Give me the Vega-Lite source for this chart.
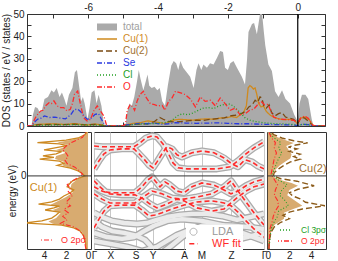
{
"$schema": "https://vega.github.io/schema/vega-lite/v6.json",
"padding": {"left": 1, "top": 1, "right": 0, "bottom": 0},
"config": {"font": "Liberation Sans", "view": {"stroke": "#333", "strokeWidth": 1},
 "axis": {"domain": false, "grid": false, "ticks": false, "tickCount": 30, "labelFontSize": 10, "titleFontSize": 10, "titleFontWeight": "normal", "labelColor": "#222", "titleColor": "#222", "tickColor": "#333", "labelFlush": false, "labelBound": false, "labelOverlap": false}},
"datasets": {
"tot": [{"E":-7.75,"v":0},{"E":-7.62,"v":0},{"E":-7.58,"v":5},{"E":-7.52,"v":8.5},{"E":-7.45,"v":8},{"E":-7.38,"v":6},{"E":-7.32,"v":7},{"E":-7.25,"v":12},{"E":-7.15,"v":13},{"E":-7.05,"v":16},{"E":-6.98,"v":15},{"E":-6.9,"v":17},{"E":-6.82,"v":13},{"E":-6.75,"v":15},{"E":-6.68,"v":12},{"E":-6.62,"v":9},{"E":-6.55,"v":14},{"E":-6.45,"v":17},{"E":-6.38,"v":24},{"E":-6.32,"v":25},{"E":-6.26,"v":18},{"E":-6.2,"v":11},{"E":-6.15,"v":13},{"E":-6.1,"v":10},{"E":-6.02,"v":3},{"E":-5.96,"v":8},{"E":-5.9,"v":15},{"E":-5.82,"v":16},{"E":-5.76,"v":10},{"E":-5.7,"v":14},{"E":-5.62,"v":9},{"E":-5.55,"v":1},{"E":-5.5,"v":0},{"E":-5.0,"v":0},{"E":-4.93,"v":0.5},{"E":-4.88,"v":6},{"E":-4.82,"v":10},{"E":-4.75,"v":9},{"E":-4.68,"v":13},{"E":-4.6,"v":20},{"E":-4.55,"v":25},{"E":-4.5,"v":21},{"E":-4.42,"v":16},{"E":-4.35,"v":20},{"E":-4.3,"v":23},{"E":-4.25,"v":18},{"E":-4.18,"v":17},{"E":-4.1,"v":17.5},{"E":-4.02,"v":16},{"E":-3.95,"v":17},{"E":-3.88,"v":11},{"E":-3.8,"v":9},{"E":-3.72,"v":18},{"E":-3.62,"v":27},{"E":-3.55,"v":29},{"E":-3.48,"v":28},{"E":-3.42,"v":25},{"E":-3.36,"v":29},{"E":-3.28,"v":26},{"E":-3.18,"v":24},{"E":-3.08,"v":22},{"E":-2.98,"v":17},{"E":-2.9,"v":25},{"E":-2.84,"v":28},{"E":-2.76,"v":25},{"E":-2.7,"v":27.5},{"E":-2.6,"v":26},{"E":-2.51,"v":28},{"E":-2.41,"v":27.5},{"E":-2.31,"v":30.5},{"E":-2.22,"v":33.5},{"E":-2.14,"v":33},{"E":-2.08,"v":26},{"E":-2.0,"v":25},{"E":-1.93,"v":28},{"E":-1.84,"v":29},{"E":-1.74,"v":26},{"E":-1.6,"v":22},{"E":-1.51,"v":18.5},{"E":-1.45,"v":30},{"E":-1.41,"v":42},{"E":-1.31,"v":45.5},{"E":-1.25,"v":46},{"E":-1.17,"v":41},{"E":-1.12,"v":46},{"E":-1.08,"v":50},{"E":-1.02,"v":50},{"E":-0.97,"v":42},{"E":-0.93,"v":36},{"E":-0.84,"v":27.5},{"E":-0.74,"v":24.5},{"E":-0.65,"v":15.5},{"E":-0.55,"v":13},{"E":-0.45,"v":16},{"E":-0.35,"v":12},{"E":-0.22,"v":10},{"E":-0.1,"v":5},{"E":0.0,"v":2},{"E":0.05,"v":10},{"E":0.12,"v":14},{"E":0.22,"v":14},{"E":0.3,"v":12},{"E":0.4,"v":3},{"E":0.45,"v":0},{"E":0.78,"v":0}],
"comp": [
{"s":"Cu(1)","E":-7.75,"v":0},{"s":"Cu(1)","E":-7.6,"v":0},{"s":"Cu(1)","E":-7.55,"v":0.5},{"s":"Cu(1)","E":-7.4,"v":0.8},{"s":"Cu(1)","E":-7.2,"v":0.9},{"s":"Cu(1)","E":-7.0,"v":1.0},{"s":"Cu(1)","E":-6.8,"v":0.8},{"s":"Cu(1)","E":-6.6,"v":0.7},{"s":"Cu(1)","E":-6.4,"v":1.1},{"s":"Cu(1)","E":-6.2,"v":0.7},{"s":"Cu(1)","E":-6.0,"v":0.5},{"s":"Cu(1)","E":-5.8,"v":0.9},{"s":"Cu(1)","E":-5.6,"v":0.5},{"s":"Cu(1)","E":-5.5,"v":0},{"s":"Cu(1)","E":-5.0,"v":0},{"s":"Cu(1)","E":-4.9,"v":0.6},{"s":"Cu(1)","E":-4.7,"v":1.2},{"s":"Cu(1)","E":-4.5,"v":1.5},{"s":"Cu(1)","E":-4.3,"v":2.3},{"s":"Cu(1)","E":-4.1,"v":1.8},{"s":"Cu(1)","E":-3.95,"v":1.5},{"s":"Cu(1)","E":-3.8,"v":1.0},{"s":"Cu(1)","E":-3.6,"v":2.5},{"s":"Cu(1)","E":-3.4,"v":3.0},{"s":"Cu(1)","E":-3.2,"v":2.8},{"s":"Cu(1)","E":-3.0,"v":2.6},{"s":"Cu(1)","E":-2.8,"v":3.0},{"s":"Cu(1)","E":-2.6,"v":3.2},{"s":"Cu(1)","E":-2.4,"v":3.0},{"s":"Cu(1)","E":-2.2,"v":3.6},{"s":"Cu(1)","E":-2.0,"v":3.8},{"s":"Cu(1)","E":-1.9,"v":4.2},{"s":"Cu(1)","E":-1.75,"v":3.8},{"s":"Cu(1)","E":-1.65,"v":5.0},{"s":"Cu(1)","E":-1.55,"v":6.0},{"s":"Cu(1)","E":-1.47,"v":9},{"s":"Cu(1)","E":-1.42,"v":17},{"s":"Cu(1)","E":-1.37,"v":18},{"s":"Cu(1)","E":-1.32,"v":17.5},{"s":"Cu(1)","E":-1.27,"v":16.5},{"s":"Cu(1)","E":-1.22,"v":17},{"s":"Cu(1)","E":-1.17,"v":14},{"s":"Cu(1)","E":-1.12,"v":10},{"s":"Cu(1)","E":-1.05,"v":8.5},{"s":"Cu(1)","E":-0.98,"v":9},{"s":"Cu(1)","E":-0.9,"v":6.5},{"s":"Cu(1)","E":-0.8,"v":5},{"s":"Cu(1)","E":-0.7,"v":4},{"s":"Cu(1)","E":-0.55,"v":3.2},{"s":"Cu(1)","E":-0.4,"v":2.8},{"s":"Cu(1)","E":-0.25,"v":3.0},{"s":"Cu(1)","E":-0.1,"v":2.5},{"s":"Cu(1)","E":0.0,"v":1.0},{"s":"Cu(1)","E":0.08,"v":3.5},{"s":"Cu(1)","E":0.2,"v":4.0},{"s":"Cu(1)","E":0.32,"v":3.0},{"s":"Cu(1)","E":0.42,"v":0.5},{"s":"Cu(1)","E":0.5,"v":0},{"s":"Cu(1)","E":0.78,"v":0},
{"s":"Cu(2)","E":-7.75,"v":0},{"s":"Cu(2)","E":-7.6,"v":0},{"s":"Cu(2)","E":-7.55,"v":0.4},{"s":"Cu(2)","E":-7.3,"v":0.6},{"s":"Cu(2)","E":-7.0,"v":0.7},{"s":"Cu(2)","E":-6.7,"v":0.6},{"s":"Cu(2)","E":-6.4,"v":0.8},{"s":"Cu(2)","E":-6.1,"v":0.5},{"s":"Cu(2)","E":-5.8,"v":0.7},{"s":"Cu(2)","E":-5.55,"v":0.2},{"s":"Cu(2)","E":-5.5,"v":0},{"s":"Cu(2)","E":-5.0,"v":0},{"s":"Cu(2)","E":-4.9,"v":0.4},{"s":"Cu(2)","E":-4.6,"v":0.8},{"s":"Cu(2)","E":-4.3,"v":1.0},{"s":"Cu(2)","E":-4.1,"v":2.0},{"s":"Cu(2)","E":-3.95,"v":3.8},{"s":"Cu(2)","E":-3.85,"v":3.0},{"s":"Cu(2)","E":-3.7,"v":2.0},{"s":"Cu(2)","E":-3.5,"v":1.8},{"s":"Cu(2)","E":-3.3,"v":2.0},{"s":"Cu(2)","E":-3.1,"v":2.4},{"s":"Cu(2)","E":-2.9,"v":2.6},{"s":"Cu(2)","E":-2.7,"v":2.5},{"s":"Cu(2)","E":-2.5,"v":3.0},{"s":"Cu(2)","E":-2.3,"v":3.3},{"s":"Cu(2)","E":-2.1,"v":3.6},{"s":"Cu(2)","E":-1.95,"v":4.5},{"s":"Cu(2)","E":-1.8,"v":4.8},{"s":"Cu(2)","E":-1.65,"v":5.2},{"s":"Cu(2)","E":-1.5,"v":6.5},{"s":"Cu(2)","E":-1.4,"v":8.5},{"s":"Cu(2)","E":-1.3,"v":9.5},{"s":"Cu(2)","E":-1.22,"v":11.5},{"s":"Cu(2)","E":-1.15,"v":10.5},{"s":"Cu(2)","E":-1.08,"v":13},{"s":"Cu(2)","E":-1.03,"v":12.5},{"s":"Cu(2)","E":-0.97,"v":9},{"s":"Cu(2)","E":-0.9,"v":8},{"s":"Cu(2)","E":-0.82,"v":9.5},{"s":"Cu(2)","E":-0.75,"v":6},{"s":"Cu(2)","E":-0.65,"v":4.5},{"s":"Cu(2)","E":-0.55,"v":5.5},{"s":"Cu(2)","E":-0.45,"v":6.0},{"s":"Cu(2)","E":-0.35,"v":4.0},{"s":"Cu(2)","E":-0.25,"v":3.5},{"s":"Cu(2)","E":-0.12,"v":3.0},{"s":"Cu(2)","E":0.0,"v":1.2},{"s":"Cu(2)","E":0.1,"v":4.0},{"s":"Cu(2)","E":0.2,"v":3.5},{"s":"Cu(2)","E":0.32,"v":2.0},{"s":"Cu(2)","E":0.42,"v":0.3},{"s":"Cu(2)","E":0.5,"v":0},{"s":"Cu(2)","E":0.78,"v":0},
{"s":"Se","E":-7.75,"v":0},{"s":"Se","E":-7.6,"v":0},{"s":"Se","E":-7.55,"v":1.5},{"s":"Se","E":-7.45,"v":3.0},{"s":"Se","E":-7.35,"v":3.5},{"s":"Se","E":-7.25,"v":4.5},{"s":"Se","E":-7.1,"v":3.8},{"s":"Se","E":-6.95,"v":4.0},{"s":"Se","E":-6.8,"v":3.5},{"s":"Se","E":-6.65,"v":3.2},{"s":"Se","E":-6.5,"v":5.0},{"s":"Se","E":-6.4,"v":7.3},{"s":"Se","E":-6.3,"v":7.5},{"s":"Se","E":-6.22,"v":6.5},{"s":"Se","E":-6.12,"v":4.5},{"s":"Se","E":-6.03,"v":3.0},{"s":"Se","E":-5.93,"v":3.3},{"s":"Se","E":-5.8,"v":5.2},{"s":"Se","E":-5.7,"v":5.5},{"s":"Se","E":-5.62,"v":3.0},{"s":"Se","E":-5.52,"v":0.5},{"s":"Se","E":-5.5,"v":0},{"s":"Se","E":-5.0,"v":0},{"s":"Se","E":-4.9,"v":0.5},{"s":"Se","E":-4.7,"v":0.8},{"s":"Se","E":-4.5,"v":1.2},{"s":"Se","E":-4.3,"v":1.0},{"s":"Se","E":-4.1,"v":1.3},{"s":"Se","E":-3.9,"v":0.8},{"s":"Se","E":-3.7,"v":1.0},{"s":"Se","E":-3.5,"v":1.5},{"s":"Se","E":-3.2,"v":1.3},{"s":"Se","E":-2.9,"v":1.2},{"s":"Se","E":-2.6,"v":1.3},{"s":"Se","E":-2.3,"v":1.4},{"s":"Se","E":-2.0,"v":1.2},{"s":"Se","E":-1.7,"v":1.0},{"s":"Se","E":-1.4,"v":1.0},{"s":"Se","E":-1.1,"v":0.8},{"s":"Se","E":-0.8,"v":0.7},{"s":"Se","E":-0.5,"v":0.6},{"s":"Se","E":-0.2,"v":0.5},{"s":"Se","E":0.0,"v":0.2},{"s":"Se","E":0.15,"v":0.8},{"s":"Se","E":0.3,"v":0.6},{"s":"Se","E":0.45,"v":0.1},{"s":"Se","E":0.5,"v":0},{"s":"Se","E":0.78,"v":0},
{"s":"Cl","E":-7.75,"v":0},{"s":"Cl","E":-7.6,"v":0},{"s":"Cl","E":-7.55,"v":0.2},{"s":"Cl","E":-7.2,"v":0.4},{"s":"Cl","E":-6.8,"v":0.5},{"s":"Cl","E":-6.4,"v":0.6},{"s":"Cl","E":-6.0,"v":0.4},{"s":"Cl","E":-5.6,"v":0.4},{"s":"Cl","E":-5.5,"v":0},{"s":"Cl","E":-5.0,"v":0},{"s":"Cl","E":-4.9,"v":0.3},{"s":"Cl","E":-4.6,"v":0.8},{"s":"Cl","E":-4.3,"v":1.0},{"s":"Cl","E":-4.0,"v":1.2},{"s":"Cl","E":-3.8,"v":1.5},{"s":"Cl","E":-3.6,"v":2.5},{"s":"Cl","E":-3.45,"v":4.5},{"s":"Cl","E":-3.3,"v":5.5},{"s":"Cl","E":-3.15,"v":5.0},{"s":"Cl","E":-3.0,"v":5.8},{"s":"Cl","E":-2.85,"v":7.0},{"s":"Cl","E":-2.7,"v":8.0},{"s":"Cl","E":-2.55,"v":8.2},{"s":"Cl","E":-2.4,"v":7.8},{"s":"Cl","E":-2.25,"v":9.0},{"s":"Cl","E":-2.1,"v":9.6},{"s":"Cl","E":-1.95,"v":9.8},{"s":"Cl","E":-1.85,"v":9.0},{"s":"Cl","E":-1.75,"v":7.5},{"s":"Cl","E":-1.62,"v":5.5},{"s":"Cl","E":-1.5,"v":3.5},{"s":"Cl","E":-1.35,"v":2.5},{"s":"Cl","E":-1.2,"v":2.0},{"s":"Cl","E":-1.0,"v":1.5},{"s":"Cl","E":-0.8,"v":1.2},{"s":"Cl","E":-0.6,"v":1.0},{"s":"Cl","E":-0.4,"v":0.9},{"s":"Cl","E":-0.2,"v":0.8},{"s":"Cl","E":0.0,"v":0.3},{"s":"Cl","E":0.15,"v":0.8},{"s":"Cl","E":0.3,"v":0.6},{"s":"Cl","E":0.45,"v":0.1},{"s":"Cl","E":0.5,"v":0},{"s":"Cl","E":0.78,"v":0},
{"s":"O","E":-7.75,"v":0},{"s":"O","E":-7.62,"v":0},{"s":"O","E":-7.51,"v":3.7},{"s":"O","E":-7.43,"v":5.5},{"s":"O","E":-7.36,"v":6.7},{"s":"O","E":-7.29,"v":7.0},{"s":"O","E":-7.22,"v":9.0},{"s":"O","E":-7.12,"v":10.4},{"s":"O","E":-7.05,"v":10.0},{"s":"O","E":-6.98,"v":11.2},{"s":"O","E":-6.89,"v":9.0},{"s":"O","E":-6.79,"v":8.2},{"s":"O","E":-6.7,"v":8.2},{"s":"O","E":-6.6,"v":6.7},{"s":"O","E":-6.51,"v":7.5},{"s":"O","E":-6.45,"v":10},{"s":"O","E":-6.39,"v":14.2},{"s":"O","E":-6.3,"v":15.6},{"s":"O","E":-6.22,"v":9.7},{"s":"O","E":-6.13,"v":3.7},{"s":"O","E":-6.03,"v":2.2},{"s":"O","E":-5.93,"v":3.0},{"s":"O","E":-5.84,"v":6.7},{"s":"O","E":-5.74,"v":9.0},{"s":"O","E":-5.65,"v":6.7},{"s":"O","E":-5.55,"v":4.5},{"s":"O","E":-5.48,"v":0.7},{"s":"O","E":-5.45,"v":0},{"s":"O","E":-5.0,"v":0},{"s":"O","E":-4.93,"v":1.0},{"s":"O","E":-4.88,"v":7},{"s":"O","E":-4.8,"v":9.5},{"s":"O","E":-4.72,"v":8.5},{"s":"O","E":-4.67,"v":7.0},{"s":"O","E":-4.6,"v":11},{"s":"O","E":-4.52,"v":14},{"s":"O","E":-4.42,"v":15.5},{"s":"O","E":-4.35,"v":13},{"s":"O","E":-4.22,"v":10},{"s":"O","E":-4.1,"v":9.5},{"s":"O","E":-4.0,"v":9.0},{"s":"O","E":-3.88,"v":9.2},{"s":"O","E":-3.8,"v":7.0},{"s":"O","E":-3.7,"v":11},{"s":"O","E":-3.6,"v":12.5},{"s":"O","E":-3.5,"v":15.5},{"s":"O","E":-3.4,"v":15.0},{"s":"O","E":-3.3,"v":14.5},{"s":"O","E":-3.22,"v":14},{"s":"O","E":-3.07,"v":12},{"s":"O","E":-2.93,"v":8.5},{"s":"O","E":-2.85,"v":11},{"s":"O","E":-2.79,"v":13},{"s":"O","E":-2.65,"v":11},{"s":"O","E":-2.5,"v":11.5},{"s":"O","E":-2.36,"v":9},{"s":"O","E":-2.22,"v":12.5},{"s":"O","E":-2.08,"v":10},{"s":"O","E":-1.93,"v":7},{"s":"O","E":-1.79,"v":8},{"s":"O","E":-1.65,"v":5},{"s":"O","E":-1.5,"v":5.5},{"s":"O","E":-1.38,"v":7.0},{"s":"O","E":-1.26,"v":7.5},{"s":"O","E":-1.15,"v":9.5},{"s":"O","E":-1.05,"v":11},{"s":"O","E":-0.95,"v":9.5},{"s":"O","E":-0.85,"v":9.7},{"s":"O","E":-0.78,"v":7.0},{"s":"O","E":-0.69,"v":4.0},{"s":"O","E":-0.55,"v":3.2},{"s":"O","E":-0.4,"v":3.0},{"s":"O","E":-0.25,"v":2.8},{"s":"O","E":-0.1,"v":2.5},{"s":"O","E":0.0,"v":1.0},{"s":"O","E":0.08,"v":3.5},{"s":"O","E":0.2,"v":4.5},{"s":"O","E":0.3,"v":3.5},{"s":"O","E":0.42,"v":0.5},{"s":"O","E":0.5,"v":0},{"s":"O","E":0.78,"v":0}
],
"cu1": [{"E":-2.08,"v":0.15},{"E":-1.85,"v":0.25},{"E":-1.71,"v":0.4},{"E":-1.57,"v":0.7},{"E":-1.48,"v":1.3},{"E":-1.4,"v":2.4},{"E":-1.34,"v":5.8},{"E":-1.28,"v":4.2},{"E":-1.2,"v":3.3},{"E":-1.11,"v":2.9},{"E":-1.03,"v":2.6},{"E":-0.97,"v":3.9},{"E":-0.91,"v":3.1},{"E":-0.86,"v":2.6},{"E":-0.8,"v":4.5},{"E":-0.74,"v":3.3},{"E":-0.66,"v":2.6},{"E":-0.57,"v":2.2},{"E":-0.48,"v":1.6},{"E":-0.4,"v":1.3},{"E":-0.31,"v":1.9},{"E":-0.23,"v":1.7},{"E":-0.14,"v":1.4},{"E":-0.06,"v":0.8},{"E":0.0,"v":0.3},{"E":0.06,"v":0.5},{"E":0.14,"v":0.9},{"E":0.22,"v":1.6},{"E":0.3,"v":2.8},{"E":0.36,"v":2.2},{"E":0.42,"v":2.6},{"E":0.48,"v":4.4},{"E":0.53,"v":3.1},{"E":0.57,"v":4.1},{"E":0.63,"v":2.9},{"E":0.69,"v":2.4},{"E":0.74,"v":4.0},{"E":0.8,"v":3.0},{"E":0.86,"v":1.9},{"E":0.91,"v":2.6},{"E":0.95,"v":4.6},{"E":1.02,"v":2.0},{"E":1.08,"v":0.9},{"E":1.17,"v":0.3},{"E":1.25,"v":0.1}],
"cu1f": [{"E":-2.08,"v":0.1},{"E":-1.75,"v":0.3},{"E":-1.57,"v":0.6},{"E":-1.45,"v":1.4},{"E":-1.36,"v":3.2},{"E":-1.3,"v":3.6},{"E":-1.2,"v":2.9},{"E":-1.06,"v":2.5},{"E":-0.97,"v":3.2},{"E":-0.9,"v":2.6},{"E":-0.82,"v":3.4},{"E":-0.74,"v":2.9},{"E":-0.6,"v":2.0},{"E":-0.48,"v":1.4},{"E":-0.35,"v":1.6},{"E":-0.23,"v":1.5},{"E":-0.1,"v":1.0},{"E":0.0,"v":0.3},{"E":0.1,"v":0.7},{"E":0.2,"v":1.3},{"E":0.3,"v":2.3},{"E":0.4,"v":2.2},{"E":0.48,"v":3.0},{"E":0.57,"v":2.9},{"E":0.66,"v":2.0},{"E":0.74,"v":2.9},{"E":0.8,"v":2.3},{"E":0.88,"v":1.8},{"E":0.95,"v":2.8},{"E":1.02,"v":1.6},{"E":1.1,"v":0.6},{"E":1.25,"v":0.1}],
"o1": [{"E":-2.08,"v":0.2},{"E":-1.7,"v":0.4},{"E":-1.55,"v":0.8},{"E":-1.45,"v":1.3},{"E":-1.35,"v":2.5},{"E":-1.25,"v":1.9},{"E":-1.15,"v":2.3},{"E":-1.05,"v":1.8},{"E":-0.95,"v":2.2},{"E":-0.85,"v":1.6},{"E":-0.75,"v":2.0},{"E":-0.65,"v":1.7},{"E":-0.55,"v":1.4},{"E":-0.45,"v":1.8},{"E":-0.35,"v":1.6},{"E":-0.25,"v":1.9},{"E":-0.15,"v":1.5},{"E":-0.05,"v":0.9},{"E":0.05,"v":0.5},{"E":0.15,"v":0.8},{"E":0.25,"v":1.2},{"E":0.35,"v":1.9},{"E":0.45,"v":2.1},{"E":0.55,"v":1.8},{"E":0.65,"v":2.0},{"E":0.75,"v":2.3},{"E":0.85,"v":2.0},{"E":0.95,"v":1.5},{"E":1.1,"v":0.5},{"E":1.25,"v":0.2}],
"cu2": [{"E":-2.08,"v":0.1},{"E":-1.8,"v":0.15},{"E":-1.6,"v":0.3},{"E":-1.45,"v":0.6},{"E":-1.32,"v":1.2},{"E":-1.22,"v":2.0},{"E":-1.12,"v":1.4},{"E":-1.03,"v":2.0},{"E":-0.94,"v":3.2},{"E":-0.85,"v":5.3},{"E":-0.75,"v":3.5},{"E":-0.65,"v":3.0},{"E":-0.57,"v":2.3},{"E":-0.48,"v":2.0},{"E":-0.38,"v":2.8},{"E":-0.28,"v":4.3},{"E":-0.15,"v":2.7},{"E":-0.08,"v":1.2},{"E":0.0,"v":0.5},{"E":0.1,"v":0.6},{"E":0.2,"v":1.0},{"E":0.3,"v":1.5},{"E":0.4,"v":2.1},{"E":0.48,"v":3.0},{"E":0.55,"v":2.4},{"E":0.62,"v":3.0},{"E":0.7,"v":2.0},{"E":0.77,"v":2.7},{"E":0.82,"v":1.9},{"E":0.88,"v":2.6},{"E":0.94,"v":3.7},{"E":1.0,"v":2.4},{"E":1.08,"v":1.3},{"E":1.17,"v":0.6},{"E":1.25,"v":0.2}],
"cu2f": [{"E":-2.08,"v":0.1},{"E":-1.6,"v":0.3},{"E":-1.4,"v":0.6},{"E":-1.22,"v":1.5},{"E":-1.05,"v":1.5},{"E":-0.95,"v":2.3},{"E":-0.85,"v":3.2},{"E":-0.7,"v":2.5},{"E":-0.55,"v":1.8},{"E":-0.4,"v":2.0},{"E":-0.28,"v":2.8},{"E":-0.2,"v":2.2},{"E":-0.1,"v":1.0},{"E":0.0,"v":0.4},{"E":0.15,"v":0.6},{"E":0.3,"v":1.1},{"E":0.4,"v":1.6},{"E":0.5,"v":2.1},{"E":0.62,"v":2.2},{"E":0.75,"v":1.9},{"E":0.85,"v":1.7},{"E":0.94,"v":2.4},{"E":1.0,"v":1.8},{"E":1.1,"v":0.9},{"E":1.25,"v":0.1}],
"side2": [
{"s":"Cl 3pσ","E":-2.08,"v":0.1},{"s":"Cl 3pσ","E":-1.5,"v":0.3},{"s":"Cl 3pσ","E":-1.3,"v":0.6},{"s":"Cl 3pσ","E":-1.15,"v":0.9},{"s":"Cl 3pσ","E":-1.0,"v":1.0},{"s":"Cl 3pσ","E":-0.85,"v":1.9},{"s":"Cl 3pσ","E":-0.7,"v":1.6},{"s":"Cl 3pσ","E":-0.55,"v":1.1},{"s":"Cl 3pσ","E":-0.4,"v":1.3},{"s":"Cl 3pσ","E":-0.25,"v":1.8},{"s":"Cl 3pσ","E":-0.1,"v":0.9},{"s":"Cl 3pσ","E":0.05,"v":0.4},{"s":"Cl 3pσ","E":0.2,"v":0.6},{"s":"Cl 3pσ","E":0.35,"v":0.8},{"s":"Cl 3pσ","E":0.5,"v":1.0},{"s":"Cl 3pσ","E":0.65,"v":1.3},{"s":"Cl 3pσ","E":0.8,"v":1.0},{"s":"Cl 3pσ","E":0.95,"v":1.2},{"s":"Cl 3pσ","E":1.1,"v":0.5},{"s":"Cl 3pσ","E":1.25,"v":0.1},
{"s":"O 2pσ","E":-2.08,"v":0.1},{"s":"O 2pσ","E":-1.5,"v":0.2},{"s":"O 2pσ","E":-1.3,"v":0.4},{"s":"O 2pσ","E":-1.15,"v":0.5},{"s":"O 2pσ","E":-1.0,"v":0.7},{"s":"O 2pσ","E":-0.85,"v":1.0},{"s":"O 2pσ","E":-0.7,"v":0.9},{"s":"O 2pσ","E":-0.55,"v":0.6},{"s":"O 2pσ","E":-0.4,"v":0.7},{"s":"O 2pσ","E":-0.25,"v":0.9},{"s":"O 2pσ","E":-0.1,"v":0.6},{"s":"O 2pσ","E":0.05,"v":0.3},{"s":"O 2pσ","E":0.2,"v":0.4},{"s":"O 2pσ","E":0.35,"v":0.5},{"s":"O 2pσ","E":0.5,"v":0.6},{"s":"O 2pσ","E":0.65,"v":0.8},{"s":"O 2pσ","E":0.8,"v":0.6},{"s":"O 2pσ","E":0.95,"v":0.7},{"s":"O 2pσ","E":1.1,"v":0.3},{"s":"O 2pσ","E":1.25,"v":0.1}
],
"bands": [
{"b":"U1","w":1,"k":0,"E":0.85},{"b":"U1","w":1,"k":8,"E":0.83},{"b":"U1","w":1,"k":16,"E":0.83},{"b":"U1","w":1,"k":28,"E":0.83},{"b":"U1","w":1,"k":40,"E":0.83},{"b":"U1","w":1,"k":46,"E":0.94},{"b":"U1","w":1,"k":52,"E":1.08},{"b":"U1","w":1,"k":58,"E":1.14},{"b":"U1","w":1,"k":63,"E":1.11},{"b":"U1","w":1,"k":69,"E":0.91},{"b":"U1","w":1,"k":74,"E":0.66},{"b":"U1","w":1,"k":79,"E":0.37},{"b":"U1","w":1,"k":84,"E":0.23},{"b":"U1","w":1,"k":93,"E":0.2},{"b":"U1","w":1,"k":108,"E":0.2},{"b":"U1","w":1,"k":123,"E":0.2},{"b":"U1","w":1,"k":136,"E":0.26},{"b":"U1","w":1,"k":144,"E":0.43},{"b":"U1","w":1,"k":152,"E":0.63},{"b":"U1","w":1,"k":160,"E":0.8},{"b":"U1","w":1,"k":170,"E":0.97},
{"b":"U2","w":1,"k":0,"E":0.2},{"b":"U2","w":1,"k":5,"E":0.43},{"b":"U2","w":1,"k":10,"E":0.63},{"b":"U2","w":1,"k":16,"E":0.74},{"b":"U2","w":1,"k":28,"E":0.77},{"b":"U2","w":1,"k":40,"E":0.77},{"b":"U2","w":1,"k":45,"E":0.63},{"b":"U2","w":1,"k":50,"E":0.48},{"b":"U2","w":1,"k":55,"E":0.31},{"b":"U2","w":1,"k":59,"E":0.23},{"b":"U2","w":1,"k":63,"E":0.4},{"b":"U2","w":1,"k":68,"E":0.63},{"b":"U2","w":1,"k":73,"E":0.83},{"b":"U2","w":1,"k":78,"E":0.77},{"b":"U2","w":1,"k":83,"E":0.6},{"b":"U2","w":1,"k":88,"E":0.54},{"b":"U2","w":1,"k":98,"E":0.66},{"b":"U2","w":1,"k":108,"E":0.71},{"b":"U2","w":1,"k":120,"E":0.66},{"b":"U2","w":1,"k":130,"E":0.51},{"b":"U2","w":1,"k":138,"E":0.34},{"b":"U2","w":1,"k":144,"E":0.26},{"b":"U2","w":1,"k":151,"E":0.46},{"b":"U2","w":1,"k":158,"E":0.4},{"b":"U2","w":1,"k":164,"E":0.28},{"b":"U2","w":1,"k":170,"E":0.2},
{"b":"M1","w":1,"k":0,"E":-0.14},{"b":"M1","w":1,"k":6,"E":-0.31},{"b":"M1","w":1,"k":12,"E":-0.46},{"b":"M1","w":1,"k":18,"E":-0.48},{"b":"M1","w":1,"k":30,"E":-0.48},{"b":"M1","w":1,"k":41,"E":-0.48},{"b":"M1","w":1,"k":48,"E":-0.31},{"b":"M1","w":1,"k":54,"E":-0.11},{"b":"M1","w":1,"k":58,"E":-0.03},{"b":"M1","w":1,"k":62,"E":-0.17},{"b":"M1","w":1,"k":66,"E":-0.31},{"b":"M1","w":1,"k":71,"E":-0.17},{"b":"M1","w":1,"k":76,"E":-0.26},{"b":"M1","w":1,"k":83,"E":-0.43},{"b":"M1","w":1,"k":90,"E":-0.48},{"b":"M1","w":1,"k":98,"E":-0.31},{"b":"M1","w":1,"k":108,"E":-0.2},{"b":"M1","w":1,"k":120,"E":-0.26},{"b":"M1","w":1,"k":130,"E":-0.4},{"b":"M1","w":1,"k":137,"E":-0.51},{"b":"M1","w":1,"k":144,"E":-0.43},{"b":"M1","w":1,"k":152,"E":-0.28},{"b":"M1","w":1,"k":160,"E":-0.17},{"b":"M1","w":1,"k":170,"E":-0.09},
{"b":"M2","w":1,"k":0,"E":-1.48},{"b":"M2","w":1,"k":5,"E":-1.23},{"b":"M2","w":1,"k":10,"E":-1.0},{"b":"M2","w":1,"k":16,"E":-0.85},{"b":"M2","w":1,"k":28,"E":-0.83},{"b":"M2","w":1,"k":41,"E":-0.83},{"b":"M2","w":1,"k":48,"E":-0.97},{"b":"M2","w":1,"k":55,"E":-1.14},{"b":"M2","w":1,"k":61,"E":-1.11},{"b":"M2","w":1,"k":68,"E":-1.05},{"b":"M2","w":1,"k":78,"E":-0.94},{"b":"M2","w":1,"k":90,"E":-0.83},{"b":"M2","w":1,"k":103,"E":-0.74},{"b":"M2","w":1,"k":118,"E":-0.71},{"b":"M2","w":1,"k":130,"E":-0.77},{"b":"M2","w":1,"k":137,"E":-0.85},{"b":"M2","w":1,"k":144,"E":-1.03},{"b":"M2","w":1,"k":152,"E":-1.28},{"b":"M2","w":1,"k":160,"E":-1.51},{"b":"M2","w":1,"k":170,"E":-1.74},
{"b":"M3","w":1,"k":0,"E":-0.51},{"b":"M3","w":1,"k":8,"E":-0.66},{"b":"M3","w":1,"k":16,"E":-0.77},{"b":"M3","w":1,"k":28,"E":-0.77},{"b":"M3","w":1,"k":41,"E":-0.77},{"b":"M3","w":1,"k":49,"E":-0.6},{"b":"M3","w":1,"k":58,"E":-0.43},{"b":"M3","w":1,"k":68,"E":-0.51},{"b":"M3","w":1,"k":78,"E":-0.63},{"b":"M3","w":1,"k":90,"E":-0.66},{"b":"M3","w":1,"k":103,"E":-0.6},{"b":"M3","w":1,"k":118,"E":-0.51},{"b":"M3","w":1,"k":130,"E":-0.31},{"b":"M3","w":1,"k":137,"E":-0.14},{"b":"M3","w":1,"k":144,"E":-0.43},{"b":"M3","w":1,"k":152,"E":-0.74},{"b":"M3","w":1,"k":160,"E":-1.05},{"b":"M3","w":1,"k":170,"E":-1.4},
{"b":"M4","w":1,"k":0,"E":-0.31},{"b":"M4","w":1,"k":8,"E":-0.43},{"b":"M4","w":1,"k":16,"E":-0.51},{"b":"M4","w":1,"k":28,"E":-0.54},{"b":"M4","w":1,"k":41,"E":-0.54},{"b":"M4","w":1,"k":48,"E":-0.63},{"b":"M4","w":1,"k":56,"E":-0.8},{"b":"M4","w":1,"k":63,"E":-0.91},{"b":"M4","w":1,"k":73,"E":-0.8},{"b":"M4","w":1,"k":83,"E":-0.66},{"b":"M4","w":1,"k":90,"E":-0.71},{"b":"M4","w":1,"k":103,"E":-0.91},{"b":"M4","w":1,"k":118,"E":-1.0},{"b":"M4","w":1,"k":130,"E":-0.94},{"b":"M4","w":1,"k":137,"E":-0.77},{"b":"M4","w":1,"k":144,"E":-0.6},{"b":"M4","w":1,"k":152,"E":-0.43},{"b":"M4","w":1,"k":160,"E":-0.31},{"b":"M4","w":1,"k":170,"E":-0.23},
{"b":"D1","w":0,"k":0,"E":-1.05},{"b":"D1","w":0,"k":8,"E":-1.17},{"b":"D1","w":0,"k":18,"E":-1.28},{"b":"D1","w":0,"k":30,"E":-1.34},{"b":"D1","w":0,"k":43,"E":-1.37},{"b":"D1","w":0,"k":53,"E":-1.34},{"b":"D1","w":0,"k":63,"E":-1.25},{"b":"D1","w":0,"k":73,"E":-1.17},{"b":"D1","w":0,"k":86,"E":-1.11},{"b":"D1","w":0,"k":98,"E":-1.08},{"b":"D1","w":0,"k":113,"E":-1.08},{"b":"D1","w":0,"k":128,"E":-1.14},{"b":"D1","w":0,"k":143,"E":-1.25},{"b":"D1","w":0,"k":156,"E":-1.17},{"b":"D1","w":0,"k":170,"E":-1.08},
{"b":"D2","w":0,"k":0,"E":-1.28},{"b":"D2","w":0,"k":8,"E":-1.45},{"b":"D2","w":0,"k":18,"E":-1.57},{"b":"D2","w":0,"k":30,"E":-1.62},{"b":"D2","w":0,"k":43,"E":-1.71},{"b":"D2","w":0,"k":51,"E":-1.82},{"b":"D2","w":0,"k":56,"E":-1.97},{"b":"D2","w":0,"k":60,"E":-2.14},{"b":"D2","w":0,"k":68,"E":-2.19},{"b":"D2","w":0,"k":78,"E":-1.97},{"b":"D2","w":0,"k":88,"E":-1.74},{"b":"D2","w":0,"k":98,"E":-1.54},{"b":"D2","w":0,"k":108,"E":-1.42},{"b":"D2","w":0,"k":123,"E":-1.4},{"b":"D2","w":0,"k":138,"E":-1.42},{"b":"D2","w":0,"k":153,"E":-1.45},{"b":"D2","w":0,"k":170,"E":-1.51},
{"b":"D3","w":0,"k":0,"E":-1.62},{"b":"D3","w":0,"k":13,"E":-1.74},{"b":"D3","w":0,"k":28,"E":-1.79},{"b":"D3","w":0,"k":40,"E":-1.74},{"b":"D3","w":0,"k":50,"E":-1.57},{"b":"D3","w":0,"k":60,"E":-1.42},{"b":"D3","w":0,"k":73,"E":-1.28},{"b":"D3","w":0,"k":88,"E":-1.23},{"b":"D3","w":0,"k":108,"E":-1.28},{"b":"D3","w":0,"k":128,"E":-1.4},{"b":"D3","w":0,"k":148,"E":-1.62},{"b":"D3","w":0,"k":170,"E":-1.85},
{"b":"D4","w":0,"k":0,"E":-1.85},{"b":"D4","w":0,"k":18,"E":-1.94},{"b":"D4","w":0,"k":33,"E":-2.02},{"b":"D4","w":0,"k":48,"E":-2.14},{"b":"D4","w":0,"k":63,"E":-2.02},{"b":"D4","w":0,"k":73,"E":-1.85},{"b":"D4","w":0,"k":83,"E":-1.68},{"b":"D4","w":0,"k":93,"E":-1.57},{"b":"D4","w":0,"k":108,"E":-1.62},{"b":"D4","w":0,"k":123,"E":-1.77},{"b":"D4","w":0,"k":138,"E":-1.85},{"b":"D4","w":0,"k":153,"E":-1.74},{"b":"D4","w":0,"k":170,"E":-1.62}
],
"zero": [{"E": 0}],
"lab1": [{"t": "Cu(1)", "v": 5.3, "E": -0.33}],
"lab2": [{"t": "Cu(2)", "v": 2.9, "E": 0.2}]
},
"spacing": 6,
"bounds": "flush",
"resolve": {"scale": {"color": "independent", "strokeDash": "independent"}, "legend": {"color": "independent", "strokeDash": "independent"}},
"vconcat": [
{
 "width": 298, "height": 112,
 "resolve": {"axis": {"x": "independent", "y": "independent"}},
 "layer": [
  {"data": {"name": "tot"}, "mark": {"type": "area", "color": "#aaaaaa", "clip": true},
   "encoding": {
    "x": {"field": "E", "type": "quantitative", "scale": {"domain": [-7.75, 0.78], "nice": false, "zero": false},
      "axis": {"orient": "top", "values": [-7,-6,-5,-4,-3,-2,-1,0], "labelExpr": "datum.value % 2 == 0 ? '' + datum.value : ''", "title": null, "ticks": true, "tickSize": -4, "labelPadding": 6, "labelFontSize": 10}},
    "y": {"field": "v", "type": "quantitative", "stack": null, "scale": {"domain": [0, 50], "nice": false},
      "axis": {"values": [0,5,10,15,20,25,30,35,40,45,50], "labelExpr": "datum.value % 10 == 0 ? '' + datum.value : ''", "title": "DOS (states / eV / states)", "titlePadding": 1, "ticks": true, "tickSize": -4, "labelPadding": 7, "labelFontSize": 10}}
   }},
  {"data": {"name": "comp"}, "mark": {"type": "line", "strokeWidth": 1.3, "clip": true},
   "encoding": {
    "x": {"field": "E", "type": "quantitative", "axis": {"orient": "bottom", "values": [-7,-6,-5,-4,-3,-2,-1,0], "labels": false, "title": null, "ticks": true, "tickSize": -4}},
    "y": {"field": "v", "type": "quantitative", "axis": {"orient": "right", "values": [0,5,10,15,20,25,30,35,40,45,50], "labels": false, "title": null, "ticks": true, "tickSize": -4}},
    "color": {"field": "s", "type": "nominal", "scale": {"domain": ["total","Cu(1)","Cu(2)","Se","Cl","O"], "range": ["#aaaaaa","#d08a1e","#7a4a12","#2a3ae0","#22a022","#ff2a2a"]},
      "legend": {"title": null, "orient": "none", "legendX": 70, "legendY": 7.4, "symbolType": "M-1,0H3", "symbolSize": 100, "symbolStrokeWidth": 1.5, "labelFontSize": 10, "labelOffset": 16, "rowPadding": 0, "clipHeight": 11.3, "padding": 0,
        "encode": {"labels": {"update": {"fill": {"signal": "datum.value === 'total' ? '#a0a0a0' : datum.value === 'Cu(1)' ? '#d08a1e' : datum.value === 'Cu(2)' ? '#a0702e' : datum.value === 'Se' ? '#2a3ae0' : datum.value === 'Cl' ? '#22a022' : '#ff2a2a'"}}},
                   "symbols": {"update": {"strokeWidth": {"signal": "datum.value === 'total' ? 7 : 1.5"}}}}}},
    "strokeDash": {"field": "s", "type": "nominal", "scale": {"domain": ["total","Cu(1)","Cu(2)","Se","Cl","O"], "range": [[1,0],[1,0],[6,3],[5,2,1,2],[1,2],[5,2,1,2]]},
      "legend": {"title": null, "orient": "none", "legendX": 70, "legendY": 7.4, "symbolType": "M-1,0H3", "symbolSize": 100, "symbolStrokeWidth": 1.5, "labelFontSize": 10, "labelOffset": 16, "rowPadding": 0, "clipHeight": 11.3, "padding": 0,
        "encode": {"labels": {"update": {"fill": {"signal": "datum.value === 'total' ? '#a0a0a0' : datum.value === 'Cu(1)' ? '#d08a1e' : datum.value === 'Cu(2)' ? '#a0702e' : datum.value === 'Se' ? '#2a3ae0' : datum.value === 'Cl' ? '#22a022' : '#ff2a2a'"}}},
                   "symbols": {"update": {"strokeWidth": {"signal": "datum.value === 'total' ? 7 : 1.5"}}}}}}
   }},
  {"data": {"name": "zero"}, "mark": {"type": "rule", "color": "#000", "strokeWidth": 1.2}, "encoding": {"x": {"field": "E", "type": "quantitative", "axis": null}}}
 ]
},
{
 "hconcat": [
  {
   "width": 64, "height": 117,
   "layer": [
    {"data": {"name": "cu1f"}, "mark": {"type": "area", "orient": "horizontal", "color": "#d8ab70", "clip": true},
     "encoding": {
      "x": {"field": "v", "type": "quantitative", "stack": null, "scale": {"domain": [-0.27, 5.55], "reverse": true, "nice": false, "zero": false},
        "axis": {"values": [0,2,4], "title": null, "labelPadding": 1, "labelExpr": "datum.value == 0 ? '0\u2003' : '' + datum.value"}},
      "y": {"field": "E", "type": "quantitative", "scale": {"domain": [-2.08, 1.25], "nice": false, "zero": false},
        "axis": {"values": [0], "labelExpr": "'0'", "title": "energy (eV)", "titlePadding": 3, "labelPadding": 1}}
     }},
    {"data": {"name": "cu1"}, "mark": {"type": "line", "color": "#cc8820", "strokeWidth": 1.3, "clip": true},
     "encoding": {"x": {"field": "v", "type": "quantitative"}, "y": {"field": "E", "type": "quantitative"}, "order": {"field": "E", "type": "quantitative"}}},
    {"data": {"name": "o1"}, "mark": {"type": "line", "strokeWidth": 1.1, "strokeDash": [5,2,1,2], "clip": true},
     "encoding": {"x": {"field": "v", "type": "quantitative"}, "y": {"field": "E", "type": "quantitative"}, "order": {"field": "E", "type": "quantitative"},
      "color": {"datum": "O 2pσ", "type": "nominal", "scale": {"domain": ["O 2pσ"], "range": ["#ff2a2a"]},
        "legend": {"title": null, "orient": "none", "legendX": 12, "legendY": 103.5, "symbolType": "M-2.5,0H2.5", "symbolSize": 64, "labelFontSize": 9, "labelOffset": 12, "padding": 0, "clipHeight": 9,
          "encode": {"labels": {"update": {"fill": {"value": "#ff2a2a"}}}, "symbols": {"update": {"strokeDash": {"value": [5,2,1,2]}, "strokeWidth": {"value": 1.1}}}}}}}},
    {"data": {"name": "zero"}, "mark": {"type": "rule", "color": "#333"}, "encoding": {"y": {"field": "E", "type": "quantitative"}}},
    {"data": {"name": "lab1"}, "mark": {"type": "text", "color": "#cc8820", "fontSize": 11, "align": "left", "baseline": "middle"}, "encoding": {"x": {"field": "v", "type": "quantitative"}, "y": {"field": "E", "type": "quantitative"}, "text": {"field": "t"}}}
   ]
  },
  {
   "width": 170, "height": 117,
   "layer": [
    {"data": {"name": "bands"}, "mark": {"type": "line", "strokeWidth": 7, "clip": true, "strokeJoin": "round"},
     "encoding": {
      "x": {"field": "k", "type": "quantitative", "scale": {"domain": [0, 170], "nice": false, "zero": false},
        "axis": {"values": [0,16.3,41.5,58.5,90,107.5,137,170], "title": null, "grid": true, "gridColor": "#c8c8c8", "labelPadding": 1,
          "labelExpr": "datum.value == 0 ? 'Γ\u2003' : datum.value == 170 ? 'Γ\u2002' : datum.value < 20 ? 'X' : datum.value < 50 ? 'S' : datum.value < 70 ? 'Y' : datum.value < 100 ? 'A' : datum.value < 120 ? 'M' : 'Z'"}},
      "y": {"field": "E", "type": "quantitative", "scale": {"domain": [-2.08, 1.25], "nice": false, "zero": false}, "axis": null},
      "detail": {"field": "b"}, "order": {"field": "k", "type": "quantitative"},
      "color": {"datum": "LDA", "type": "nominal", "scale": {"domain": ["LDA", "WF fit"], "range": ["#ababab", "#ff2a2a"]},
        "legend": {"title": null, "orient": "none", "legendX": 92, "legendY": 93, "fillColor": "white", "padding": 2, "symbolType": "stroke", "symbolSize": 49, "labelFontSize": 11, "labelOffset": 13, "rowPadding": 0, "clipHeight": 9.5,
          "encode": {"labels": {"update": {"fill": {"signal": "datum.value === 'LDA' ? '#999999' : '#ff2a2a'"}}},
                     "symbols": {"update": {"shape": {"signal": "datum.value === 'LDA' ? 'circle' : 'M-1.2,0H1.2'"}, "strokeDash": {"signal": "datum.value === 'LDA' ? [1,0] : [5,3]"}, "strokeWidth": {"signal": "datum.value === 'LDA' ? 1 : 1.6"}, "fill": {"value": "transparent"}, "stroke": {"signal": "datum.value === 'LDA' ? '#999999' : '#ff2a2a'"}}}}}}
     }},
    {"data": {"name": "bands"}, "mark": {"type": "line", "strokeWidth": 4.4, "color": "#ebebeb", "clip": true, "strokeJoin": "round"},
     "encoding": {"x": {"field": "k", "type": "quantitative"}, "y": {"field": "E", "type": "quantitative"}, "detail": {"field": "b"}, "order": {"field": "k", "type": "quantitative"}}},
    {"data": {"name": "zero"}, "mark": {"type": "rule", "color": "#333"}, "encoding": {"y": {"field": "E", "type": "quantitative"}}},
    {"data": {"name": "bands"}, "transform": [{"filter": "datum.w == 1"}], "mark": {"type": "line", "strokeWidth": 1.6, "strokeDash": [5,3], "clip": true},
     "encoding": {"x": {"field": "k", "type": "quantitative"}, "y": {"field": "E", "type": "quantitative"}, "detail": {"field": "b"}, "order": {"field": "k", "type": "quantitative"},
      "color": {"datum": "WF fit", "type": "nominal"}}}
   ]
  },
  {
   "width": 59, "height": 117,
   "layer": [
    {"data": {"name": "cu2f"}, "mark": {"type": "area", "orient": "horizontal", "color": "#d8ab70", "clip": true},
     "encoding": {
      "x": {"field": "v", "type": "quantitative", "stack": null, "scale": {"domain": [-0.08, 5.4], "nice": false, "zero": false},
        "axis": {"values": [0,2,4], "title": null, "labelPadding": 1, "labelExpr": "datum.value == 0 ? '\u20020' : '' + datum.value"}},
      "y": {"field": "E", "type": "quantitative", "scale": {"domain": [-2.08, 1.25], "nice": false, "zero": false}, "axis": null}
     }},
    {"data": {"name": "cu2"}, "mark": {"type": "line", "color": "#8b5a18", "strokeWidth": 1.4, "strokeDash": [6,3], "clip": true},
     "encoding": {"x": {"field": "v", "type": "quantitative"}, "y": {"field": "E", "type": "quantitative"}, "order": {"field": "E", "type": "quantitative"}}},
    {"data": {"name": "side2"}, "mark": {"type": "line", "strokeWidth": 1.1, "clip": true},
     "encoding": {"x": {"field": "v", "type": "quantitative"}, "y": {"field": "E", "type": "quantitative"}, "order": {"field": "E", "type": "quantitative"},
      "color": {"field": "s", "type": "nominal", "scale": {"domain": ["Cl 3pσ", "O 2pσ"], "range": ["#22a022", "#ff2a2a"]},
        "legend": {"title": null, "orient": "none", "legendX": 11, "legendY": 92.5, "symbolType": "M-2.25,0H2.25", "symbolSize": 64, "labelFontSize": 8.5, "labelOffset": 13, "padding": 0, "rowPadding": 0, "clipHeight": 11,
          "encode": {"labels": {"update": {"fill": {"signal": "datum.value === 'O 2pσ' ? '#ff2a2a' : '#22a022'"}}}}}},
      "strokeDash": {"field": "s", "type": "nominal", "scale": {"domain": ["Cl 3pσ", "O 2pσ"], "range": [[1,2],[5,2,1,2]]},
        "legend": {"title": null, "orient": "none", "legendX": 11, "legendY": 92.5, "symbolType": "M-2.25,0H2.25", "symbolSize": 64, "labelFontSize": 8.5, "labelOffset": 13, "padding": 0, "rowPadding": 0, "clipHeight": 11,
          "encode": {"labels": {"update": {"fill": {"signal": "datum.value === 'O 2pσ' ? '#ff2a2a' : '#22a022'"}}}}}}}},
    {"data": {"name": "zero"}, "mark": {"type": "rule", "color": "#333"}, "encoding": {"y": {"field": "E", "type": "quantitative"}}},
    {"data": {"name": "lab2"}, "mark": {"type": "text", "color": "#a0702e", "fontSize": 11, "align": "left", "baseline": "middle"}, "encoding": {"x": {"field": "v", "type": "quantitative"}, "y": {"field": "E", "type": "quantitative"}, "text": {"field": "t"}}}
   ]
  }
 ],
 "spacing": 3,
 "bounds": "flush",
 "resolve": {"scale": {"color": "independent", "strokeDash": "independent"}, "legend": {"color": "independent", "strokeDash": "independent"}}
}
]
}
